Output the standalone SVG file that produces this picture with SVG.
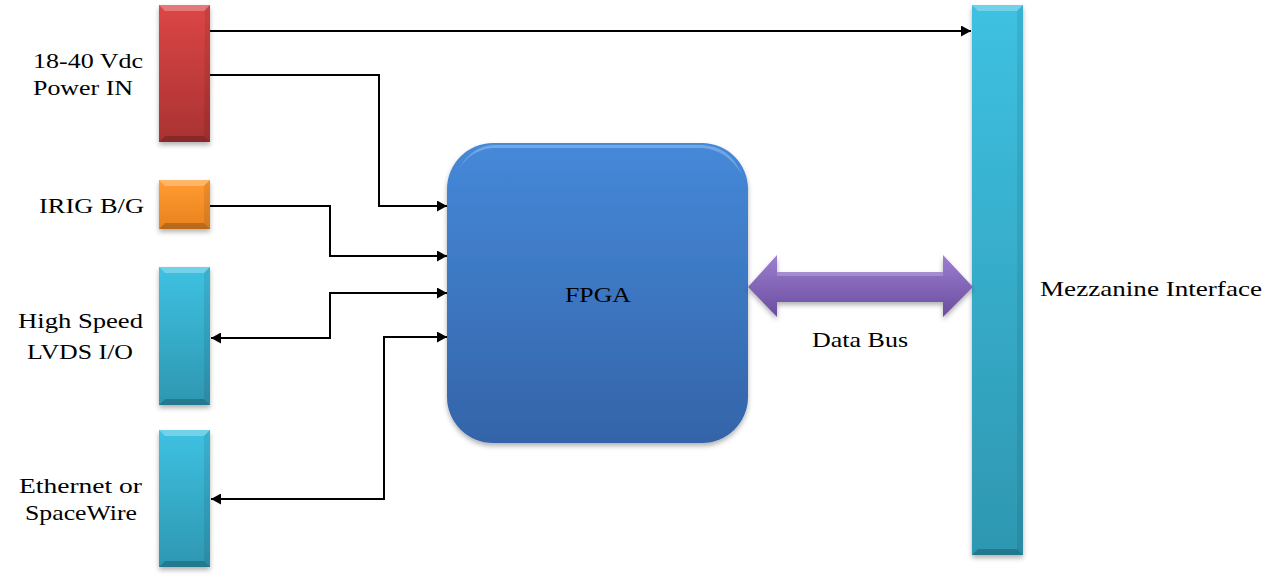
<svg xmlns="http://www.w3.org/2000/svg" width="1281" height="581" viewBox="0 0 1281 581">
<defs>
<linearGradient id="gRed" x1="0" y1="0" x2="0" y2="1"><stop offset="0" stop-color="#dc4646"/><stop offset="1" stop-color="#aa3232"/></linearGradient>
<linearGradient id="gOrange" x1="0" y1="0" x2="0" y2="1"><stop offset="0" stop-color="#ff9c30"/><stop offset="1" stop-color="#e8821f"/></linearGradient>
<linearGradient id="gCyan" x1="0" y1="0" x2="0" y2="1"><stop offset="0" stop-color="#3ec1e2"/><stop offset="1" stop-color="#2e97b1"/></linearGradient>
<linearGradient id="gBlue" x1="0" y1="0" x2="0" y2="1"><stop offset="0" stop-color="#4589d9"/><stop offset="1" stop-color="#3464a8"/></linearGradient>
<linearGradient id="gPurple" x1="0" y1="0" x2="0" y2="1"><stop offset="0" stop-color="#9c7fd2"/><stop offset="1" stop-color="#6b4c9e"/></linearGradient>
<filter id="sh" x="-20%" y="-20%" width="140%" height="140%"><feDropShadow dx="0" dy="3" stdDeviation="2.5" flood-color="#000" flood-opacity="0.3"/></filter>
<marker id="ah" viewBox="0 0 10 11" refX="10" refY="5.5" markerWidth="10" markerHeight="11" markerUnits="userSpaceOnUse" orient="auto-start-reverse"><path d="M0,0 L10,5.5 L0,11 z" fill="#000"/></marker>
<style>
text{font-family:'Liberation Serif','DejaVu Serif',serif;font-size:21px;fill:#000}
.hi{fill:#fff;opacity:0.28}
.lo{fill:#000;opacity:0.2}
.sd{fill:#000;opacity:0.08}
.conn{fill:none;stroke:#000;stroke-width:2}
</style>
</defs>

<g id="power">
<rect x="159" y="5" width="51" height="137" fill="url(#gRed)" filter="url(#sh)"/>
<polygon class="hi" points="159,5 210,5 204,11 165,11"/>
<polygon class="lo" points="159,142 210,142 204,136 165,136"/>
<polygon class="sd" points="205,11 210,5 210,142 204,136"/>
<text x="33" y="68" textLength="110" lengthAdjust="spacingAndGlyphs" font-family="Liberation Serif, serif">18-40 Vdc</text>
<text x="33" y="95" textLength="100" lengthAdjust="spacingAndGlyphs" font-family="Liberation Serif, serif">Power IN</text>
</g>

<g id="irig">
<rect x="159" y="180" width="51" height="49" fill="url(#gOrange)" filter="url(#sh)"/>
<polygon class="hi" points="159,180 210,180 204,186 165,186"/>
<polygon class="lo" points="159,229 210,229 204,223 165,223"/>
<polygon class="sd" points="204,186 210,180 210,229 204,223"/>
<text x="39" y="213" textLength="105" lengthAdjust="spacingAndGlyphs" font-family="Liberation Serif, serif">IRIG B/G</text>
</g>

<g id="lvds">
<rect x="159" y="267" width="51" height="138" fill="url(#gCyan)" filter="url(#sh)"/>
<polygon class="hi" points="159,267 210,267 204,273 165,273"/>
<polygon class="lo" points="159,405 210,405 204,399 165,399"/>
<polygon class="sd" points="204,273 210,267 210,405 204,399"/>
<text x="18" y="328" textLength="125" lengthAdjust="spacingAndGlyphs" font-family="Liberation Serif, serif">High Speed</text>
<text x="27" y="359" textLength="106" lengthAdjust="spacingAndGlyphs" font-family="Liberation Serif, serif">LVDS I/O</text>
</g>

<g id="ethernet">
<rect x="159" y="430" width="51" height="137" fill="url(#gCyan)" filter="url(#sh)"/>
<polygon class="hi" points="159,430 210,430 204,436 165,436"/>
<polygon class="lo" points="159,567 210,567 204,561 165,561"/>
<polygon class="sd" points="204,436 210,430 210,567 204,561"/>
<text x="19" y="493" textLength="123" lengthAdjust="spacingAndGlyphs" font-family="Liberation Serif, serif">Ethernet or</text>
<text x="25" y="520" textLength="112" lengthAdjust="spacingAndGlyphs" font-family="Liberation Serif, serif">SpaceWire</text>
</g>

<g id="fpga">
<rect x="447" y="143" width="301" height="300" rx="46" ry="46" fill="url(#gBlue)" filter="url(#sh)"/>
<path d="M455,175 Q470,146 493,145 L702,145 Q730,146 742,175 Q728,150 702,148 L493,148 Q468,150 455,175 z" fill="#fff" opacity="0.25"/>
<text x="565" y="302" textLength="66" lengthAdjust="spacingAndGlyphs" font-family="Liberation Serif, serif">FPGA</text>
</g>

<g id="mezzanine">
<rect x="972" y="5" width="51" height="550" fill="url(#gCyan)" filter="url(#sh)"/>
<polygon class="hi" points="972,5 1023,5 1017,11 978,11"/>
<polygon class="lo" points="972,555 1023,555 1017,549 978,549"/>
<polygon class="sd" points="1017,11 1023,5 1023,555 1017,549"/>
<text x="1040" y="296" textLength="222" lengthAdjust="spacingAndGlyphs" font-family="Liberation Serif, serif">Mezzanine Interface</text>
</g>

<g id="databus">
<polygon points="748,287 777,255 777,272 943,272 943,255 973,287 943,317 943,302 777,302 777,317" fill="url(#gPurple)" filter="url(#sh)"/>
<polygon points="777,272 943,272 943,276 777,276" fill="#fff" opacity="0.2"/>
<text x="812" y="347" textLength="96" lengthAdjust="spacingAndGlyphs" font-family="Liberation Serif, serif">Data Bus</text>
</g>

<g id="connectors">
<path class="conn" d="M210,31 H971" marker-end="url(#ah)"/>
<path class="conn" d="M210,75 H379 V206 H447" marker-end="url(#ah)"/>
<path class="conn" d="M210,206 H330 V256 H447" marker-end="url(#ah)"/>
<path class="conn" d="M211,338 H330 V293 H447" marker-start="url(#ah)" marker-end="url(#ah)"/>
<path class="conn" d="M211,499 H384 V337 H447" marker-start="url(#ah)" marker-end="url(#ah)"/>
</g>
</svg>
